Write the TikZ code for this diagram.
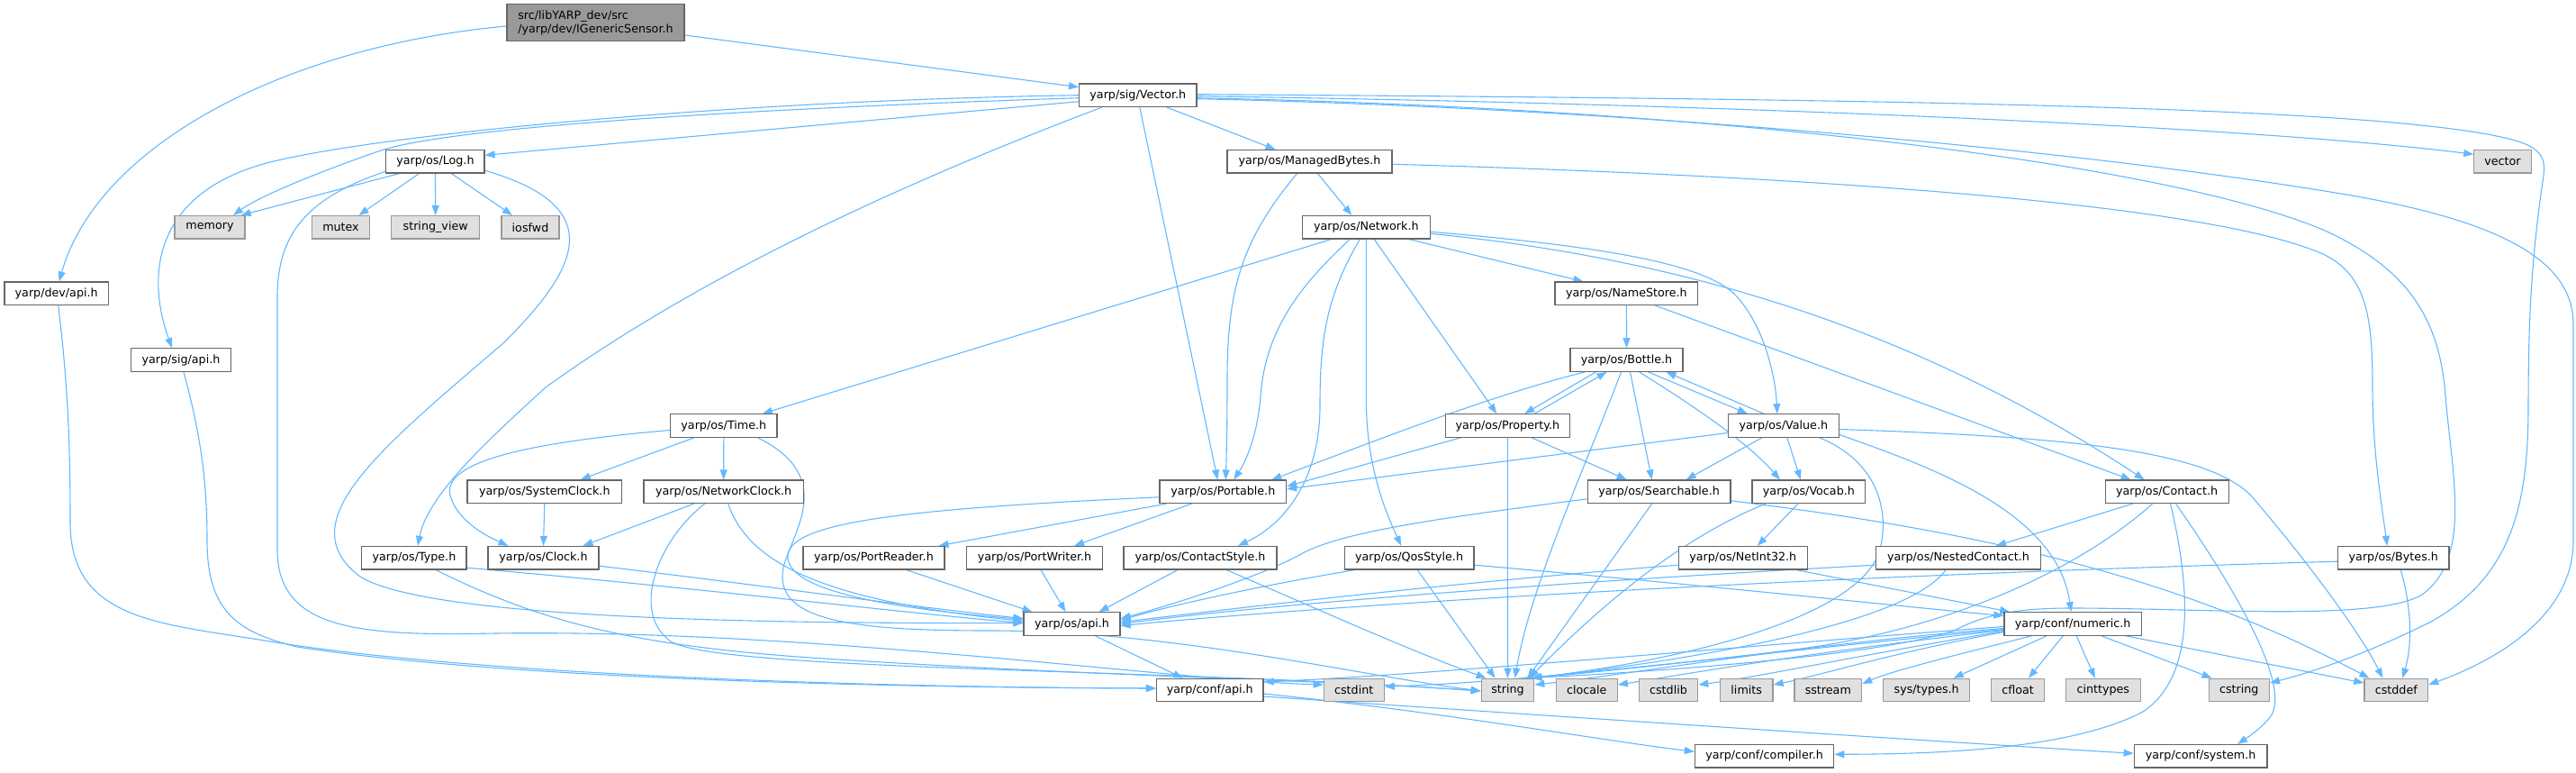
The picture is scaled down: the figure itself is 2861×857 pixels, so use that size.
\documentclass[tikz,border=0pt]{standalone}
\usepackage{fontspec}
\setmainfont{DejaVu Sans}
\usetikzlibrary{arrows.meta}
\pgfdeclarelayer{edgelayer}
\pgfsetlayers{edgelayer,main}
\definecolor{edgec}{HTML}{63B8FF}
\definecolor{boxb}{HTML}{666666}
\definecolor{extf}{HTML}{E0E0E0}
\definecolor{extb}{HTML}{999999}
\definecolor{rootf}{HTML}{999999}
\tikzset{
  hdr/.style={draw=boxb, fill=white, line width=1.2pt, minimum height=25.5pt, inner sep=0pt, text=black, font=\fontsize{12.7}{15}\selectfont},
  ext/.style={hdr, draw=extb, fill=extf},
  rootbox/.style={hdr, fill=rootf, draw=boxb, minimum height=40.6pt, align=left},
  conn/.style={draw=edgec, line width=1.1pt, -{Triangle[length=11pt,width=8pt]}}
}
\begin{document}
\begin{tikzpicture}[x=1pt,y=-1pt]
\useasboundingbox (0,0) rectangle (2861,857);
% nodes
\node[rootbox, minimum width=197pt] (root) at (661.5,25) {src/libYARP\_dev/src\\/yarp/dev/IGenericSensor.h};
\node[hdr, minimum width=130.4pt] (vec) at (1263.8,105.7) {yarp/sig/Vector.h};
\node[hdr, minimum width=109.2pt] (log) at (483.4,179.3) {yarp/os/Log.h};
\node[hdr, minimum width=183pt] (mb) at (1454.5,179.3) {yarp/os/ManagedBytes.h};
\node[ext, minimum width=63.4pt] (vector) at (2779.5,179.3) {vector};
\node[ext, minimum width=78pt] (memory) at (233,252.3) {memory};
\node[ext, minimum width=64pt] (mutex) at (378.5,252.3) {mutex};
\node[ext, minimum width=97.8pt] (sview) at (483.7,252.3) {string\_view};
\node[ext, minimum width=64pt] (iosfwd) at (589,252.3) {iosfwd};
\node[hdr, minimum width=141.8pt] (net) at (1517.3,252.3) {yarp/os/Network.h};
\node[hdr, minimum width=115.3pt] (devapi) at (62.7,325.8) {yarp/dev/api.h};
\node[hdr, minimum width=158.8pt] (ns) at (1806.4,325.8) {yarp/os/NameStore.h};
\node[hdr, minimum width=111.2pt] (sigapi) at (201,399.5) {yarp/sig/api.h};
\node[hdr, minimum width=125pt] (bottle) at (1806.5,399.5) {yarp/os/Bottle.h};
\node[hdr, minimum width=118.5pt] (time) at (803.8,472.5) {yarp/os/Time.h};
\node[hdr, minimum width=138.2pt] (prop) at (1674.3,472.5) {yarp/os/Property.h};
\node[hdr, minimum width=123pt] (value) at (1980.8,472.5) {yarp/os/Value.h};
\node[hdr, minimum width=171.5pt] (sysclk) at (604.8,545.7) {yarp/os/SystemClock.h};
\node[hdr, minimum width=177.4pt] (netclk) at (803.7,545.8) {yarp/os/NetworkClock.h};
\node[hdr, minimum width=140.5pt] (portable) at (1358.3,545.8) {yarp/os/Portable.h};
\node[hdr, minimum width=158.8pt] (search) at (1842.6,545.8) {yarp/os/Searchable.h};
\node[hdr, minimum width=125.7pt] (vocab) at (2008.9,545.8) {yarp/os/Vocab.h};
\node[hdr, minimum width=137pt] (contact) at (2406.6,545.8) {yarp/os/Contact.h};
\node[hdr, minimum width=116.3pt] (type) at (459.9,619.2) {yarp/os/Type.h};
\node[hdr, minimum width=123pt] (clock) at (603.5,619.2) {yarp/os/Clock.h};
\node[hdr, minimum width=157pt] (preader) at (970.5,619.2) {yarp/os/PortReader.h};
\node[hdr, minimum width=150.6pt] (pwriter) at (1149,619.2) {yarp/os/PortWriter.h};
\node[hdr, minimum width=170pt] (cstyle) at (1333,619.2) {yarp/os/ContactStyle.h};
\node[hdr, minimum width=143.8pt] (qos) at (1565.1,619.2) {yarp/os/QosStyle.h};
\node[hdr, minimum width=143.2pt] (ni32) at (1935.8,619.2) {yarp/os/NetInt32.h};
\node[hdr, minimum width=183.6pt] (nested) at (2175,619.2) {yarp/os/NestedContact.h};
\node[hdr, minimum width=123.4pt] (bytes) at (2658.3,619.2) {yarp/os/Bytes.h};
\node[hdr, minimum width=107pt] (osapi) at (1190.5,692.5) {yarp/os/api.h};
\node[hdr, minimum width=152.6pt] (numeric) at (2302.2,692.5) {yarp/conf/numeric.h};
\node[hdr, minimum width=118.5pt] (confapi) at (1343.8,766) {yarp/conf/api.h};
\node[ext, minimum width=67pt] (cstdint) at (1503.7,766) {cstdint};
\node[ext, minimum width=58.4pt] (string) at (1674.5,766) {string};
\node[ext, minimum width=68pt] (clocale) at (1762.3,766) {clocale};
\node[ext, minimum width=65.4pt] (cstdlib) at (1853,766) {cstdlib};
\node[ext, minimum width=58.7pt] (limits) at (1939.7,766) {limits};
\node[ext, minimum width=74.7pt] (sstream) at (2030.3,766) {sstream};
\node[ext, minimum width=96pt] (systypes) at (2139.7,766) {sys/types.h};
\node[ext, minimum width=58.6pt] (cfloat) at (2241,766) {cfloat};
\node[ext, minimum width=83pt] (cinttypes) at (2335.8,766) {cinttypes};
\node[ext, minimum width=67.3pt] (cstring) at (2486.8,766) {cstring};
\node[ext, minimum width=70.7pt] (cstddef) at (2661.3,766) {cstddef};
\node[hdr, minimum width=154.3pt] (compiler) at (1959.6,839.3) {yarp/conf/compiler.h};
\node[hdr, minimum width=147.8pt] (system) at (2444.1,839.3) {yarp/conf/system.h};
% edges
\begin{pgfonlayer}{edgelayer}
\draw[conn] ([yshift=-4pt]root.west) .. controls (313,52) and (108,163) .. ([xshift=3pt]devapi.north);
\draw[conn] ([yshift=-14pt]root.east) -- ([yshift=9pt]vec.west);
\draw[conn] ([xshift=2pt]devapi.south) .. controls (76,430) and (78,500) .. (78,580) .. controls (78,690) and (180,692) .. (300,712) .. controls (520,748) and (950,763) .. ([yshift=2pt]confapi.west);
\draw[conn] ([xshift=3pt]sigapi.south) .. controls (222,480) and (230,530) .. (230,600) .. controls (230,680) and (265,702) .. (330,718) .. controls (550,752) and (950,763) .. ([yshift=2pt]confapi.west);
% Vector.h
\draw[conn] ([yshift=-3pt]vec.west) .. controls (850,120) and (500,140) .. (420,168) .. controls (340,196) and (285,220) .. ([xshift=26pt]memory.north);
\draw[conn] (vec.west) .. controls (800,112) and (420,150) .. (300,180) .. controls (175,212) and (160,300) .. ([xshift=-10pt]sigapi.north);
\draw[conn] ([yshift=-7pt]vec.west) -- ([yshift=7pt]log.east);
\draw[conn] ([xshift=-40pt]vec.south) .. controls (1050,185) and (800,290) .. (606,430) .. controls (540,490) and (475,550) .. ([xshift=4pt]type.north);
\draw[conn] ([xshift=2pt]vec.south) -- ([xshift=-6pt]portable.north);
\draw[conn] ([xshift=32pt]vec.south) -- ([xshift=-38pt]mb.north);
\draw[conn] ([yshift=-1pt]vec.east) .. controls (1900,115) and (2500,140) .. ([yshift=8pt]vector.west);
\draw[conn] ([yshift=1pt]vec.east) .. controls (2100,110) and (2650,118) .. (2790,155) .. controls (2835,167) and (2826,185) .. (2822,215) .. controls (2812,290) and (2808,350) .. (2808,450) .. controls (2808,560) and (2790,640) .. (2700,690) .. controls (2620,730) and (2560,748) .. ([yshift=8pt]cstring.east);
\draw[conn] ([yshift=-4pt]vec.east) .. controls (1800,120) and (2300,165) .. (2600,215) .. controls (2780,245) and (2858,290) .. (2858,360) -- (2858,600) .. controls (2858,680) and (2780,730) .. ([yshift=6pt]cstddef.east);
\draw[conn] ([yshift=-3pt]vec.east) .. controls (1900,120) and (2400,180) .. (2580,255) .. controls (2680,300) and (2710,360) .. (2716,440) .. controls (2724,530) and (2745,620) .. (2690,660) .. controls (2640,690) and (2450,675) .. (2300,675) .. controls (2230,675) and (2200,685) .. (2170,700) .. controls (2080,730) and (1800,748) .. ([xshift=18pt]string.north);
% ManagedBytes
\draw[conn] ([xshift=9pt]mb.south) -- ([xshift=-16pt]net.north);
\draw[conn] ([xshift=-14pt]mb.south) .. controls (1380,265) and (1363,320) .. (1363,420) .. controls (1363,480) and (1362,510) .. ([xshift=3pt]portable.north);
\draw[conn] ([yshift=-3pt]mb.east) .. controls (2000,195) and (2450,225) .. (2580,282) .. controls (2628,305) and (2635,350) .. (2635,430) .. controls (2635,500) and (2645,560) .. ([xshift=-7pt]bytes.north);
% Network
\draw[conn] ([xshift=-39pt]net.south) -- ([xshift=43pt]time.north);
\draw[conn] ([xshift=-18pt]net.south) .. controls (1440,320) and (1405,370) .. (1400,440) .. controls (1397,480) and (1385,510) .. ([xshift=12pt]portable.north);
\draw[conn] ([xshift=-7pt]net.south) .. controls (1472,330) and (1466,380) .. (1466,450) .. controls (1466,540) and (1420,585) .. ([xshift=42pt]cstyle.north);
\draw[conn] (net.south) -- (1517.3,440) .. controls (1517,520) and (1540,570) .. ([xshift=-9pt]qos.north);
\draw[conn] ([xshift=9pt]net.south) -- ([xshift=-12pt]prop.north);
\draw[conn] ([xshift=48pt]net.south) -- ([xshift=-48pt]ns.north);
\draw[conn] ([yshift=-5pt]net.east) .. controls (1800,275) and (1890,295) .. (1925,325) .. controls (1960,360) and (1972,420) .. ([xshift=-7pt]value.north);
\draw[conn] ([yshift=-7pt]net.east) .. controls (1900,290) and (2150,380) .. ([xshift=-25pt]contact.north);
% NameStore
\draw[conn] (ns.south) -- (bottle.north);
\draw[conn] ([xshift=32pt]ns.south) -- ([xshift=-40pt]contact.north);
% Bottle
\draw[conn] ([xshift=-46pt]bottle.south) .. controls (1650,440) and (1500,500) .. ([xshift=54pt]portable.north);
\draw[conn] ([xshift=-34pt]bottle.south) -- ([xshift=19pt]prop.north);
\draw[conn] ([xshift=30pt]prop.north) -- ([xshift=-22pt]bottle.south);
\draw[conn] ([xshift=-6pt]bottle.south) .. controls (1760,520) and (1700,650) .. ([xshift=8pt]string.north);
\draw[conn] ([xshift=4pt]bottle.south) -- ([xshift=-8pt]search.north);
\draw[conn] ([xshift=14pt]bottle.south) .. controls (1880,450) and (1940,490) .. ([xshift=-32pt]vocab.north);
\draw[conn] ([xshift=24pt]bottle.south) -- ([xshift=-40pt]value.north);
\draw[conn] ([xshift=-22pt]value.north) -- ([xshift=44pt]bottle.south);
% Property
\draw[conn] ([xshift=-52pt]prop.south) -- ([yshift=6pt]portable.east);
\draw[conn] ([xshift=27pt]prop.south) -- ([xshift=-36pt]search.north);
\draw[conn] (prop.south) -- (string.north);
% Value
\draw[conn] ([yshift=-8pt]value.west) -- ([yshift=3pt]portable.east);
\draw[conn] ([xshift=-24pt]value.south) -- ([xshift=30pt]search.north);
\draw[conn] ([xshift=4pt]value.south) -- ([xshift=-9pt]vocab.north);
\draw[conn] ([xshift=40pt]value.south) .. controls (2080,510) and (2100,560) .. (2088,610) .. controls (2065,690) and (1850,735) .. ([xshift=26pt]string.north);
\draw[conn] ([yshift=-4pt]value.east) .. controls (2300,485) and (2450,500) .. (2500,550) .. controls (2560,620) and (2620,700) .. ([xshift=-15pt]cstddef.north);
\draw[conn] ([yshift=-10pt]value.east) .. controls (2150,520) and (2285,570) .. ([xshift=-2pt]numeric.north);
% Searchable
\draw[conn] ([yshift=-8pt]search.west) .. controls (1600,575) and (1490,590) .. (1445,615) .. controls (1400,640) and (1300,672) .. ([yshift=6pt]osapi.east);
\draw[conn] ([xshift=-8pt]search.south) -- ([xshift=22pt]string.north);
\draw[conn] ([yshift=-10pt]search.east) .. controls (2200,590) and (2420,640) .. ([xshift=-30pt]cstddef.north);
% Vocab
\draw[conn] ([xshift=-12pt]vocab.south) -- ([xshift=16pt]ni32.north);
\draw[conn] ([xshift=-48pt]vocab.south) .. controls (1860,600) and (1770,680) .. ([xshift=24pt]string.north);
% QosStyle
\draw[conn] ([xshift=-60pt]qos.south) .. controls (1400,650) and (1300,672) .. ([yshift=4pt]osapi.east);
\draw[conn] ([xshift=9pt]qos.south) -- ([xshift=-14pt]string.north);
\draw[conn] ([yshift=-8pt]qos.east) .. controls (1900,650) and (2100,672) .. ([yshift=9pt]numeric.west);
% NetInt32
\draw[conn] ([yshift=-8pt]ni32.west) .. controls (1600,648) and (1400,672) .. ([yshift=2pt]osapi.east);
\draw[conn] ([xshift=59pt]ni32.south) -- ([xshift=-70pt]numeric.north);
% ContactStyle
\draw[conn] ([xshift=-25pt]cstyle.south) -- ([xshift=30pt]osapi.north);
\draw[conn] ([xshift=29pt]cstyle.south) .. controls (1450,670) and (1560,720) .. ([xshift=-24pt]string.north);
% Portable
\draw[conn] ([yshift=-6pt]portable.west) .. controls (1000,565) and (870,580) .. (875,620) .. controls (880,665) and (1050,680) .. ([yshift=5pt]osapi.west);
\draw[conn] ([xshift=-63pt]portable.south) -- ([xshift=72pt]preader.north);
\draw[conn] ([xshift=-35pt]portable.south) -- ([xshift=44pt]pwriter.north);
\draw[conn] ([xshift=36pt]preader.south) -- ([xshift=-44pt]osapi.north);
\draw[conn] ([xshift=7pt]pwriter.south) -- ([xshift=-7pt]osapi.north);
% Time
\draw[conn] ([yshift=-5pt]time.west) .. controls (600,490) and (490,510) .. (500,550) .. controls (508,580) and (545,597) .. ([xshift=-39pt]clock.north);
\draw[conn] ([xshift=-33pt]time.south) -- ([xshift=40pt]sysclk.north);
\draw[conn] (time.south) -- (netclk.north);
\draw[conn] ([xshift=38pt]time.south) .. controls (930,530) and (880,590) .. (870,630) .. controls (858,690) and (950,700) .. (1100,700) .. controls (1300,700) and (1500,748) .. ([yshift=-1pt]string.west);
\draw[conn] (sysclk.south) -- (clock.north);
% NetworkClock
\draw[conn] ([xshift=-33pt]netclk.south) -- ([xshift=44pt]clock.north);
\draw[conn] ([xshift=5pt]netclk.south) .. controls (830,620) and (900,665) .. ([yshift=3pt]osapi.west);
\draw[conn] ([xshift=-21pt]netclk.south) .. controls (730,600) and (700,680) .. (745,712) .. controls (800,745) and (1300,742) .. ([yshift=-1pt]string.west);
% Type, Clock
\draw[conn] ([yshift=-11pt]type.east) .. controls (800,655) and (1000,680) .. ([yshift=1pt]osapi.west);
\draw[conn] ([xshift=24pt]type.south) .. controls (600,690) and (700,716) .. (900,730) .. controls (1200,750) and (1500,756) .. ([yshift=-1pt]string.west);
\draw[conn] ([yshift=-9pt]clock.east) .. controls (850,650) and (1000,672) .. ([yshift=6pt]osapi.west);
% Log
\draw[conn] ([yshift=-10pt]log.east) .. controls (680,230) and (640,300) .. (560,380) .. controls (420,500) and (320,580) .. (400,640) .. controls (480,690) and (900,692) .. ([yshift=1pt]osapi.west);
\draw[conn] ([yshift=-11pt]log.west) .. controls (340,220) and (308,260) .. (308,330) -- (308,610) .. controls (308,700) and (400,706) .. (550,703) .. controls (900,698) and (1300,755) .. ([yshift=6pt]cstdint.west);
\draw[conn] ([xshift=-40pt]log.south) -- ([xshift=-5pt]memory.north east);
\draw[conn] ([xshift=-18pt]log.south) -- ([xshift=20pt]mutex.north);
\draw[conn] (log.south) -- (sview.north);
\draw[conn] ([xshift=18pt]log.south) -- ([xshift=-20pt]iosfwd.north);
% Contact
\draw[conn] ([xshift=-38pt]contact.south) -- ([xshift=42pt]nested.north);
\draw[conn] ([xshift=-16pt]contact.south) .. controls (2300,640) and (2150,700) .. (2000,720) .. controls (1900,733) and (1780,745) .. ([xshift=27pt]string.north);
\draw[conn] ([xshift=4pt]contact.south) .. controls (2432,650) and (2440,750) .. (2380,790) .. controls (2300,832) and (2150,837) .. ([yshift=2pt]compiler.east);
\draw[conn] ([xshift=10pt]contact.south) .. controls (2480,650) and (2545,760) .. (2522,795) .. controls (2512,808) and (2497,818) .. ([xshift=41pt]system.north);
% NestedContact
\draw[conn] ([yshift=-8pt]nested.west) .. controls (1700,648) and (1400,672) .. (osapi.east);
\draw[conn] ([xshift=-14pt]nested.south) .. controls (2120,690) and (1900,730) .. ([xshift=27pt]string.north);
% Bytes
\draw[conn] ([yshift=-4pt]bytes.west) .. controls (2000,640) and (1500,670) .. ([yshift=-2pt]osapi.east);
\draw[conn] ([xshift=8pt]bytes.south) .. controls (2680,680) and (2678,720) .. ([xshift=7pt]cstddef.north);
% numeric
\draw[conn] ([yshift=-6pt]numeric.west) .. controls (1900,730) and (1700,757) .. ([yshift=4pt]cstdint.east);
\draw[conn] ([yshift=-5pt]numeric.west) .. controls (2000,715) and (1800,750) .. ([yshift=6pt]string.east);
\draw[conn] ([yshift=-7pt]numeric.west) .. controls (2000,725) and (1850,752) .. ([yshift=6pt]clocale.east);
\draw[conn] ([yshift=-8pt]numeric.west) .. controls (2050,730) and (1950,752) .. ([yshift=6pt]cstdlib.east);
\draw[conn] ([yshift=-9pt]numeric.west) .. controls (2100,725) and (2020,750) .. ([yshift=6pt]limits.east);
\draw[conn] ([xshift=-46pt]numeric.south) .. controls (2180,725) and (2100,745) .. ([yshift=7pt]sstream.east);
\draw[conn] ([xshift=-29pt]numeric.south) -- ([xshift=30pt]systypes.north);
\draw[conn] ([xshift=-11pt]numeric.south) -- ([xshift=12pt]cfloat.north);
\draw[conn] ([xshift=4pt]numeric.south) -- ([xshift=-9pt]cinttypes.north);
\draw[conn] ([xshift=32pt]numeric.south) -- ([xshift=4pt]cstring.north west);
\draw[conn] ([xshift=59pt]numeric.south) -- ([yshift=8pt]cstddef.west);
\draw[conn] ([yshift=-3pt]numeric.west) .. controls (1900,720) and (1600,748) .. ([yshift=9pt]confapi.east);
% api
\draw[conn] ([xshift=26pt]osapi.south) -- ([xshift=-30pt]confapi.north);
\draw[conn] ([yshift=-4pt]confapi.east) .. controls (1600,790) and (1780,822) .. ([yshift=5pt]compiler.west);
\draw[conn] ([yshift=-7pt]confapi.east) .. controls (1800,800) and (2200,826) .. ([yshift=3pt]system.west);
\end{pgfonlayer}
\end{tikzpicture}
\end{document}
